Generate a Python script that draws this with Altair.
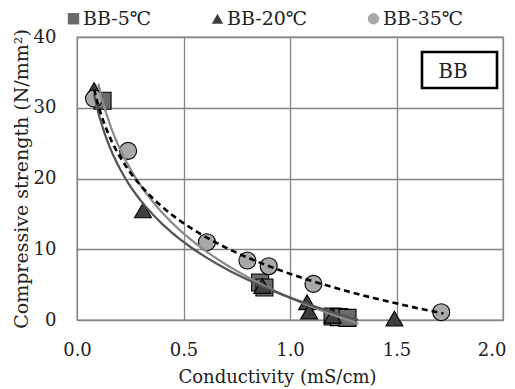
import altair as alt
import pandas as pd

series_names = ["BB-5℃", "BB-20℃", "BB-35℃"]

s5_x = [0.12, 0.86, 0.88, 1.20, 1.23, 1.27]
s5_y = [31.0, 5.3, 4.6, 0.5, 0.4, 0.3]
s20_x = [0.08, 0.31, 0.87, 1.08, 1.09, 1.20, 1.49]
s20_y = [32.5, 15.5, 4.8, 2.5, 1.2, 0.6, 0.2]
s35_x = [0.08, 0.24, 0.61, 0.80, 0.90, 1.11, 1.71]
s35_y = [31.3, 23.9, 11.0, 8.4, 7.6, 5.1, 1.1]

x_ticks = [0.0, 0.5, 1.0, 1.5, 2.0]
y_ticks = [0, 10, 20, 30, 40]

frames = []
for name, xs, ys in zip(series_names, [s5_x, s20_x, s35_x], [s5_y, s20_y, s35_y]):
    frames.append(pd.DataFrame({"x": xs, "y": ys, "series": name}))
df = pd.concat(frames, ignore_index=True)

FONT = "DejaVu Serif"

xenc = alt.X("x:Q", scale=alt.Scale(domain=[0, 2]),
             axis=alt.Axis(values=x_ticks, format=".1f", title="Conductivity (mS/cm)",
                           labelFlush=False, labelFontSize=18, labelBaseline="alphabetic",
                           labelPadding=35,
                           labelAlign={"condition": {"test": "datum.value == 2", "value": "right"},
                                       "value": "center"},
                           labelOffset={"condition": {"test": "datum.value == 2", "value": 3},
                                        "value": 0},
                           titleFontSize=18, titleX=200, titleY=62,
                           titleAlign="center", titleBaseline="alphabetic"))
yenc = alt.Y("y:Q", scale=alt.Scale(domain=[0, 40]),
             axis=alt.Axis(values=y_ticks, title="Compressive strength (N/mm²)",
                           labelFontSize=18, labelPadding=21, titleFontSize=19,
                           titlePadding=2))

leg = alt.Legend(title=None, orient="none", legendX=-13, legendY=-28, direction="horizontal",
                 labelFont=FONT, labelFontSize=19, labelColor="#222", symbolSize=130,
                 symbolStrokeColor="black", symbolStrokeWidth=1, columnPadding=56,
                 labelOffset=0, padding=0)

points = alt.Chart(df).mark_point(filled=True, stroke="black", strokeWidth=1.1,
                                  opacity=1, size=289).encode(
    x=xenc, y=yenc,
    fill=alt.Fill("series:N", scale=alt.Scale(domain=series_names,
                  range=["#6b6b6b", "#3e3e3e", "#a9a9a9"]), legend=leg),
    shape=alt.Shape("series:N", scale=alt.Scale(domain=series_names,
                    range=["square", "triangle-up", "circle"]), legend=leg),
)

def fit(name, extent, color, dash=None):
    kw = dict(color=color, strokeWidth=2.3)
    if dash:
        kw["strokeDash"] = dash
        kw["strokeWidth"] = 2.6
    return alt.Chart(df).transform_filter(alt.datum.series == name).transform_regression(
        "x", "y", method="log", extent=extent).mark_line(**kw).encode(x="x:Q", y="y:Q")

line5 = fit("BB-5℃", [0.1, 1.32], "#8c8c8c")
line20 = fit("BB-20℃", [0.08, 1.32], "#555555")
line35 = fit("BB-35℃", [0.08, 1.72], "black", [6, 4])

label_df = pd.DataFrame({"t": ["BB"]})
box = alt.Chart(label_df).mark_rect(fill="white", stroke="black", strokeWidth=2.6).encode(
    x=alt.value(345), x2=alt.value(420), y=alt.value(15), y2=alt.value(51))
box_text = alt.Chart(label_df).mark_text(font=FONT, fontSize=20, color="#222",
                                         baseline="alphabetic").encode(
    x=alt.value(376), y=alt.value(41), text="t:N")

chart = alt.layer(points, line5, line20, line35, box, box_text).properties(
    width=426, height=283, autosize="none",
    padding={"left": 69, "top": 29, "right": 4, "bottom": 67},
).configure(font=FONT).configure_view(stroke="#858585", strokeWidth=1.3).configure_axis(
    labelFont=FONT, titleFont=FONT,
    labelColor="#222", titleColor="#222", titleFontWeight="normal",
    gridColor="#858585", gridWidth=1.3, gridOpacity=1, ticks=False, tickSize=0, domain=False,
)

chart.save("out.html", embed_options={"renderer": "svg", "actions": False})
